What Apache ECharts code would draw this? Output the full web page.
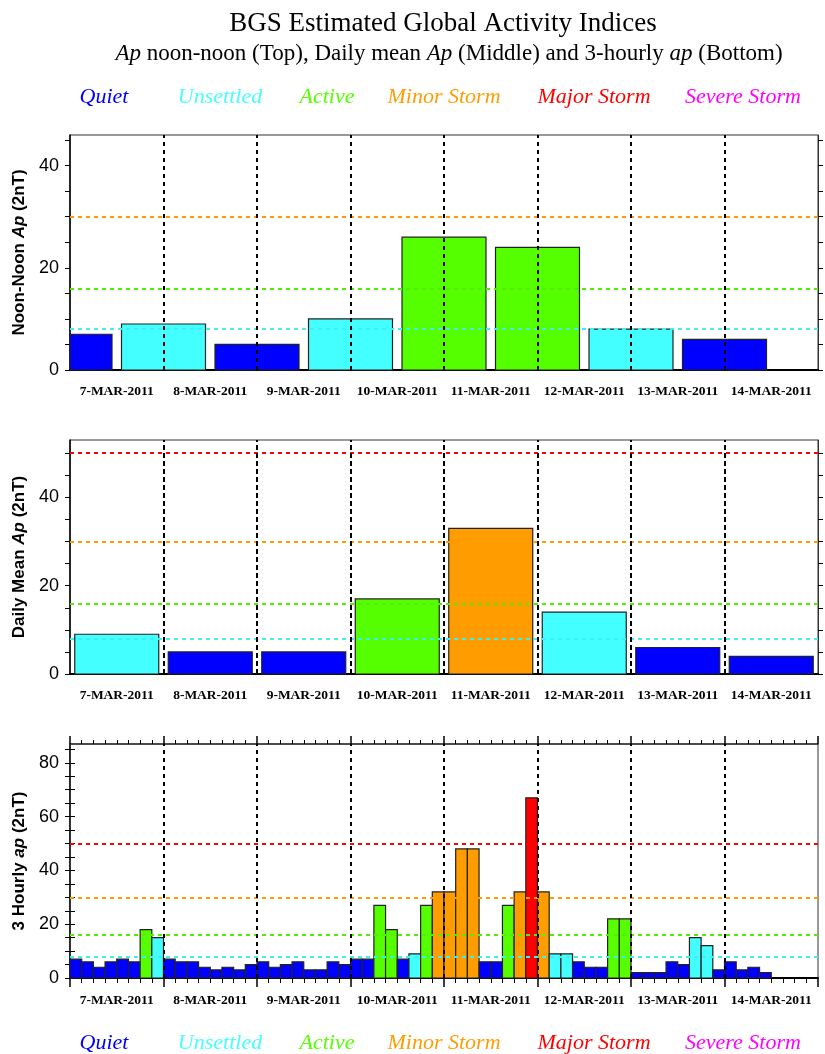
<!DOCTYPE html>
<html>
<head>
<meta charset="utf-8">
<script src="https://cdn.jsdelivr.net/npm/echarts@6/dist/echarts.min.js"></script>
<style>
html, body { margin: 0; padding: 0; background: #fff; }
#main { width: 825px; height: 1054px; }
</style>
</head>
<body>
<div id="main"></div>
<script>
(function () {
    "use strict";

    /*---- data ----*/
    var days = ['7-MAR-2011', '8-MAR-2011', '9-MAR-2011', '10-MAR-2011', '11-MAR-2011', '12-MAR-2011', '13-MAR-2011', '14-MAR-2011'];
    // noon-noon Ap, one bar per midnight (7-MAR 00:00 ... 14-MAR 00:00)
    var noonAp = [7, 9, 5, 10, 26, 24, 8, 6];
    // daily mean Ap
    var dailyAp = [9, 5, 5, 17, 33, 14, 6, 4];
    // 3-hourly ap, 8 per day
    var ap3h = [
        7, 6, 4, 6, 7, 6, 18, 15,
        7, 6, 6, 4, 3, 4, 3, 5,
        6, 4, 5, 6, 3, 3, 6, 5,
        7, 7, 27, 18, 7, 9, 27, 32,
        32, 48, 48, 6, 6, 27, 32, 67,
        32, 9, 9, 6, 4, 4, 22, 22,
        2, 2, 2, 6, 5, 15, 12, 3,
        6, 3, 4, 2, null, null, null, null
    ];

    var levelNames = ['Quiet', 'Unsettled', 'Active', 'Minor Storm', 'Major Storm', 'Severe Storm'];
    var levelMins = [0, 8, 16, 30, 50, 100];
    var levelColors = ['#0000ff', '#44ffff', '#55ff00', '#ff9c00', '#ff0000', '#ff00ff'];
    var lineColors = ['#0000ff', '#3ff0f0', '#55ee00', '#ff9c00', '#ff0000', '#ff00ff'];

    var yMax = [46, 53, 87];
    var yLabels = [[0, 20, 40], [0, 20, 40], [0, 20, 40, 60, 80]];
    var yTicks = [
        [0, 5, 10, 15, 20, 25, 30, 35, 40, 45],
        [0, 5, 10, 15, 20, 25, 30, 35, 40, 45, 50],
        [0, 5, 10, 15, 20, 25, 30, 35, 40, 45, 50, 55, 60, 65, 70, 75, 80, 85]
    ];
    var dayLines = [24, 48, 72, 96, 120, 144, 168];
    var dayCenters = [12, 36, 60, 84, 108, 132, 156, 180];
    var dayEdges = [0, 24, 48, 72, 96, 120, 144, 168, 192];

    function levelColor(v) {
        var c = levelColors[0];
        for (var i = 0; i < levelMins.length; i++) {
            if (v >= levelMins[i]) c = levelColors[i];
        }
        return c;
    }

    var noonData = noonAp.map(function (v, i) { return [i * 24, v]; });
    var dailyData = dailyAp.map(function (v, i) { return [i * 24 + 12, v]; });
    var apData = ap3h.map(function (v, i) { return [i * 3 + 1.5, v == null ? '-' : v]; });

    var serif = 'Liberation Serif';
    var sans = 'Liberation Sans';

    var grids = [
        { left: 70, right: 7, top: 135, height: 235 },
        { left: 70, right: 7, top: 440, height: 234 },
        { left: 70, right: 7, top: 744, height: 234 }
    ];
    grids.forEach(function (g) {
        g.show = true;
        g.borderColor = '#333';
        g.borderWidth = 1;
        g.outerBoundsMode = 'none';
    });

    var yNames = [
        '{n|Noon-Noon }{i|Ap}{n| (2nT)}',
        '{n|Daily Mean }{i|Ap}{n| (2nT)}',
        '{n|3 Hourly }{i|ap}{n| (2nT)}'
    ];

    var xAxes = [];
    var yAxes = [];
    for (var g = 0; g < 3; g++) {
        xAxes.push({
            type: 'value',
            gridIndex: g,
            min: 0,
            max: 192,
            interval: 24,
            position: 'bottom',
            splitLine: { show: false },
            axisLine: { show: true, onZero: false, lineStyle: { color: '#000', width: 2 } },
            axisTick: g === 2 ? {
                show: true, length: 9, customValues: dayEdges,
                lineStyle: { color: '#000', width: 1.5 }
            } : { show: false },
            minorTick: g === 2 ? {
                show: true, splitNumber: 8, length: 5,
                lineStyle: { color: '#000', width: 1 }
            } : { show: false },
            axisLabel: {
                customValues: dayCenters,
                margin: g === 2 ? 16 : 15,
                fontFamily: serif,
                fontWeight: 'bold',
                fontSize: 13.5,
                color: '#000',
                formatter: function (v) { return days[Math.round((v - 12) / 24)]; }
            }
        });
        yAxes.push({
            type: 'value',
            gridIndex: g,
            min: 0,
            max: yMax[g],
            position: 'left',
            name: yNames[g],
            nameLocation: 'middle',
            nameGap: 40,
            nameRotate: 90,
            nameTextStyle: {
                rich: {
                    n: { fontFamily: sans, fontSize: 17, fontWeight: 'bold', color: '#000' },
                    i: { fontFamily: sans, fontSize: 17, fontStyle: 'italic', fontWeight: 'bold', color: '#000' }
                }
            },
            splitLine: { show: false },
            axisLine: { show: true, lineStyle: { color: '#000', width: 1.5 } },
            axisTick: { show: true, length: 5, customValues: yTicks[g], lineStyle: { color: '#000' } },
            axisLabel: {
                customValues: yLabels[g],
                fontFamily: sans,
                fontSize: 18,
                color: '#000',
                margin: 11
            }
        });
        yAxes.push({
            type: 'value',
            gridIndex: g,
            min: 0,
            max: yMax[g],
            position: 'right',
            splitLine: { show: false },
            axisLine: { show: true, lineStyle: { color: '#333', width: 1 } },
            axisTick: { show: true, length: 5, customValues: yTicks[g], lineStyle: { color: '#000' } },
            axisLabel: { show: false }
        });
    }
    // top edge ticks of the 3-hourly panel
    xAxes.push({
        type: 'value',
        gridIndex: 2,
        min: 0,
        max: 192,
        interval: 24,
        position: 'top',
        splitLine: { show: false },
        axisLine: { show: true, onZero: false, lineStyle: { color: '#333', width: 1.5 } },
        axisTick: { show: true, length: 8, customValues: dayEdges, lineStyle: { color: '#000', width: 1.5 } },
        minorTick: { show: true, splitNumber: 8, length: 4, lineStyle: { color: '#000', width: 1 } },
        axisLabel: { show: false }
    });

    function thresholdSeries(g) {
        var lines = [];
        for (var i = 1; i < levelMins.length; i++) {
            if (levelMins[i] < yMax[g]) {
                lines.push({
                    yAxis: levelMins[i],
                    lineStyle: { color: lineColors[i], type: [4, 4], width: 2 }
                });
            }
        }
        return {
            type: 'line',
            xAxisIndex: g,
            yAxisIndex: g * 2,
            data: [],
            z: 1,
            silent: true,
            markLine: {
                silent: true,
                symbol: 'none',
                label: { show: false },
                animation: false,
                data: lines
            }
        };
    }

    function dayLineSeries(g) {
        return {
            type: 'line',
            xAxisIndex: g,
            yAxisIndex: g * 2,
            data: [],
            z: 5,
            silent: true,
            markLine: {
                silent: true,
                symbol: 'none',
                label: { show: false },
                animation: false,
                lineStyle: { color: '#000', type: g === 1 ? [5, 3] : [4, 4], width: 2 },
                data: dayLines.map(function (x) { return { xAxis: x }; })
            }
        };
    }

    // bar width given in hours, clipped to the plot area
    function barSeries(g, data, width) {
        return {
            type: 'custom',
            xAxisIndex: g,
            yAxisIndex: g * 2,
            data: data,
            encode: { x: 0, y: 1 },
            z: 3,
            animation: false,
            renderItem: function (params, api) {
                var x = api.value(0);
                var v = api.value(1);
                if (isNaN(v)) return;
                var p0 = api.coord([x - width / 2, v]);
                var p1 = api.coord([x + width / 2, 0]);
                var cs = params.coordSys;
                var rect = echarts.graphic.clipRectByRect(
                    { x: p0[0], y: p0[1], width: p1[0] - p0[0], height: p1[1] - p0[1] },
                    { x: cs.x, y: cs.y, width: cs.width, height: cs.height }
                );
                if (!rect) return;
                return {
                    type: 'rect',
                    shape: rect,
                    style: { fill: levelColor(v), stroke: '#222', lineWidth: 1.2 }
                };
            }
        };
    }

    var series = [];
    for (var k = 0; k < 3; k++) {
        series.push(thresholdSeries(k));
        series.push(dayLineSeries(k));
    }
    series.push(barSeries(0, noonData, 21.56));
    series.push(barSeries(1, dailyData, 21.56));
    series.push(barSeries(2, apData, 3));

    var legendX = [104, 220, 327, 444, 594, 743];
    var graphics = [];
    [97, 1043].forEach(function (y) {
        levelNames.forEach(function (n, i) {
            graphics.push({
                type: 'text',
                x: legendX[i],
                y: y,
                style: {
                    text: n,
                    fill: levelColors[i],
                    font: 'italic 22px "' + serif + '"',
                    textAlign: 'center',
                    textVerticalAlign: 'middle'
                }
            });
        });
    });

    var option = {
        backgroundColor: '#fff',
        animation: false,
        title: [{
            text: 'BGS Estimated Global Activity Indices',
            left: 438,
            textAlign: 'center',
            top: 5,
            textStyle: { fontFamily: serif, fontSize: 27, fontWeight: 'normal', color: '#000' }
        }, {
            text: '{i|Ap} noon-noon (Top), Daily mean {i|Ap} (Middle) and 3-hourly {i|ap} (Bottom)',
            left: 444,
            textAlign: 'center',
            top: 37,
            textStyle: {
                fontFamily: serif, fontSize: 23, fontWeight: 'normal', color: '#000',
                rich: { i: { fontFamily: serif, fontSize: 23, fontStyle: 'italic', color: '#000' } }
            }
        }],
        grid: grids,
        xAxis: xAxes,
        yAxis: yAxes,
        series: series,
        graphic: graphics
    };

    var chart = echarts.init(document.getElementById('main'));
    chart.setOption(option);
})();
</script>
</body>
</html>
